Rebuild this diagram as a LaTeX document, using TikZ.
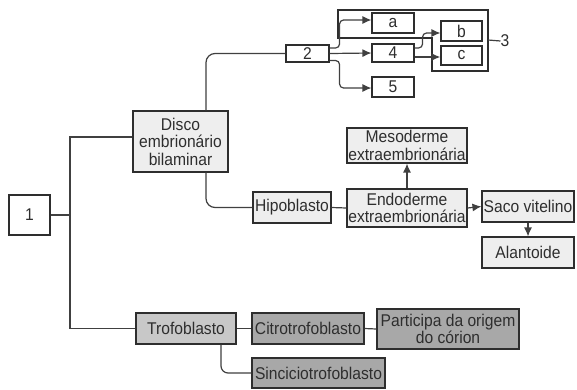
\documentclass[tikz,border=0pt]{standalone}
\usepackage{fontspec}
\setmainfont{Liberation Sans}[FakeStretch=0.92]
\usetikzlibrary{arrows.meta}
\definecolor{txt}{HTML}{2E2E2E}
\definecolor{ln}{HTML}{404040}
\definecolor{fa}{HTML}{EEEEEE}
\definecolor{fb}{HTML}{C8C8C8}
\definecolor{fc}{HTML}{A8A8A8}
\tikzset{
  box/.style={draw=txt, line width=1.1pt, inner sep=0pt, align=center, text=txt,
    font=\fontsize{17}{17.5}\selectfont},
  conn/.style={draw=ln, line width=1.2pt},
  arr/.style={conn, -{Latex[length=9pt,width=8pt]}},
}
\begin{document}
\begin{tikzpicture}[x=1pt,y=-1pt]
\useasboundingbox[fill=white] (0,0) rectangle (577,389);
% nodes
\node[box, fill=white, minimum width=41, minimum height=40] (n1) at (29.5,215) {1};
\node[box, fill=fa, minimum width=95, minimum height=61] (disco) at (180.5,141.5) {Disco\\embrionário\\bilaminar};
\node[box, fill=white, minimum width=43, minimum height=17] (n2) at (307.5,53.5) {2};
\node[box, fill=white, minimum width=42, minimum height=20] (na) at (393,23) {a};
\node[box, fill=white, minimum width=42, minimum height=18] (n4) at (393,53) {4};
\node[box, fill=white, minimum width=42, minimum height=20] (n5) at (393,87) {5};
\node[box, fill=white, minimum width=41, minimum height=20] (nb) at (461.5,31) {b};
\node[box, fill=white, minimum width=41, minimum height=19] (nc) at (461.5,55.5) {c};
\node[text=txt, font=\fontsize{17}{17.5}\selectfont, inner sep=0pt] (n3) at (505,41) {3};
\node[box, fill=fa, minimum width=78, minimum height=31] (hipo) at (292,207.5) {Hipoblasto};
\node[box, fill=fa, minimum width=120, minimum height=38] (endo) at (407,208) {Endoderme\\extraembrionária};
\node[box, fill=fa, minimum width=120, minimum height=35] (meso) at (407,145.5) {Mesoderme\\extraembrionária};
\node[box, fill=fa, minimum width=92, minimum height=31] (saco) at (528,206.5) {Saco vitelino};
\node[box, fill=fa, minimum width=92, minimum height=31] (alan) at (528,252.5) {Alantoide};
\node[box, fill=fb, minimum width=100, minimum height=31] (trof) at (186,328.5) {Trofoblasto};
\node[box, fill=fc, minimum width=112, minimum height=31] (citro) at (308,328.5) {Citrotrofoblasto};
\node[box, fill=fc, minimum width=142, minimum height=40] (part) at (448,329) {Participa da origem\\do córion};
\node[box, fill=fc, minimum width=133, minimum height=30] (sinc) at (318.5,373) {Sinciciotrofoblasto};
% group 3
\draw[draw=txt, line width=1.1pt] (338,10) -- (488,10) -- (488,71) -- (432,71) -- (432,38) -- (338,38) -- cycle;
\coordinate (g3) at (488,40);
\draw[conn] (g3) -- (n3.west);
% connectors
\coordinate (j) at (70,215);
\draw[conn] (n1.east) -- (j);
\draw[conn] ([yshift=4.5]disco.west) -| (j);
\draw[conn] (j) |- (trof.west);
\draw[conn, rounded corners=9] ([xshift=25.5]disco.north) |- (n2.west);
\draw[conn, rounded corners=9] ([xshift=25.5]disco.south) |- (hipo.west);
\draw[conn] (hipo.east) -- (endo.west);
\draw[arr] (endo.north) -- (meso.south);
\draw[arr] (endo.east) -- (saco.west);
\draw[arr] (saco.south) -- (alan.north);
\draw[conn] (trof.east) -- (citro.west);
\draw[conn] (citro.east) -- (part.west);
\draw[conn, rounded corners=7] ([xshift=35]trof.south) |- (sinc.west);
\draw[arr, rounded corners=4] ([yshift=5.5]n2.east) -- ++(10,0) |- ([yshift=3]na.west);
\draw[arr] (n2.east) -- (n4.west);
\draw[arr, rounded corners=4] ([yshift=-7]n2.east) -- ++(10,0) |- ([yshift=-1]n5.west);
\draw[arr, rounded corners=4] ([yshift=5]n4.east) -- ++(8,0) |- ([yshift=-2]nb.west);
\draw[arr, line width=1.6pt] ([yshift=-4]n4.east) -- ([yshift=-4]n4.east -| nc.west);
\end{tikzpicture}
\end{document}
